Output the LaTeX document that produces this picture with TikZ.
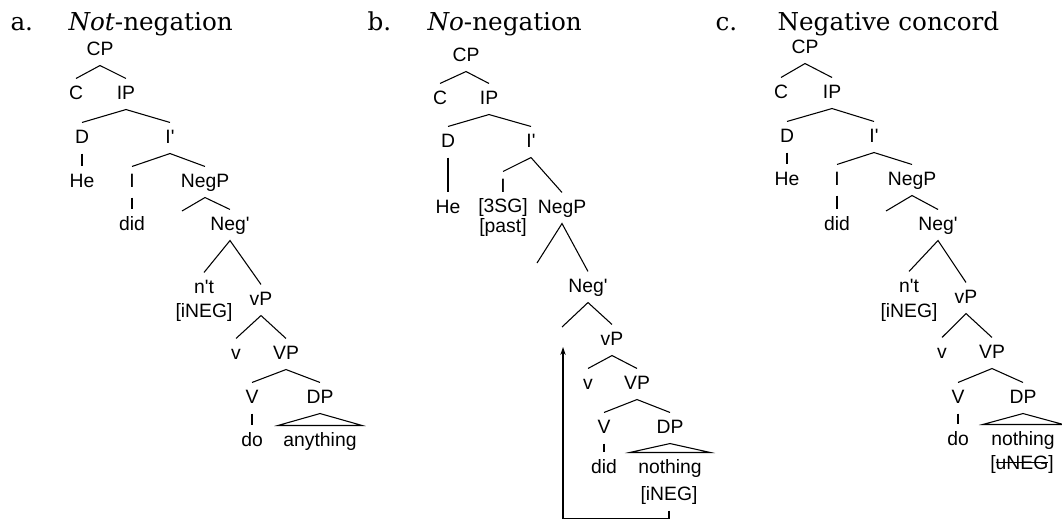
\documentclass[tikz,border=0pt]{standalone}
\usepackage{fontspec}
\newfontfamily\treefont{Liberation Sans}
\newfontfamily\headfont{DejaVu Serif}
\usetikzlibrary{arrows.meta}
\tikzset{every picture/.style={line width=0.8pt}}
\newcommand\strk[1]{\setbox0\hbox{#1}\rlap{\rule[0.34em]{\wd0}{0.7pt}}#1}

\begin{document}
\begin{tikzpicture}[x=0.75pt,y=0.75pt,yscale=-1,xscale=1,
	lab/.style={anchor=base,font=\treefont\fontsize{14.5}{16}\selectfont,inner xsep=3.75pt,inner ysep=4.5pt,text height=10.5pt,text depth=3pt},
	leaf/.style={lab,inner xsep=6pt},
	head/.style={anchor=base west,font=\headfont\fontsize{18.5}{21}\selectfont,inner sep=0pt}]
	\useasboundingbox (0,0) rectangle (1062,522);

	% Titles
	\node[head] (ta) at (10,30) {a.};
	\node[head] (tna) at (68,30) {\textit{Not}-negation};
	\node[head] (tb) at (367,30) {b.};
	\node[head] (tnb) at (427,30) {\textit{No}-negation};
	\node[head] (tc) at (715,30) {c.};
	\node[head] (tnc) at (777,30) {Negative concord};

	%Tree a
	\node[lab] (aCP) at (100,55) {CP};
	\node[lab] (aC) at (76,99) {C};
	\node[lab] (aIP) at (126,99) {IP};
	\node[lab] (aD) at (82,143) {D};
	\node[lab] (aIbar) at (170,143) {I'};
	\node[lab] (aHe) at (82,187) {He};
	\node[lab] (aI) at (132,187) {I};
	\node[lab] (aNegP) at (205,187) {NegP};
	\node[lab] (adid) at (132,230) {did};
	\node[lab] (aNegbar) at (230,230) {Neg'};
	\coordinate (aSpec) at (182,211);
	\node[lab] (ant) at (204,293) {n't};
	\node[lab] (aineg) at (204,317) {[iNEG]};
	\node[lab] (avP) at (261,305) {vP};
	\node[lab] (av) at (236,359) {v};
	\node[lab] (aVP) at (286,359) {VP};
	\node[lab] (aV) at (252,403) {V};
	\node[lab] (aDP) at (320,403) {DP};
	\node[lab] (ado) at (252,446) {do};
	\node[lab] (aany) at (320,446) {anything};

	\draw (aC.north) -- (aCP.south) -- (aIP.north);
	\draw (aD.north) -- (aIP.south) -- (aIbar.north);
	\draw (aD.south) -- (aHe.north);
	\draw (aI.north) -- (aIbar.south) -- (aNegP.north);
	\draw (aI.south) -- (adid.north);
	\draw (aSpec) -- (aNegP.south) -- (aNegbar.north);
	\draw (ant.north) -- (aNegbar.south) -- (avP.north);
	\draw (av.north) -- (avP.south) -- (aVP.north);
	\draw (aV.north) -- (aVP.south) -- (aDP.north);
	\draw (aV.south) -- (ado.north);
	\draw (aDP.south) -- (aany.north east) -- (aany.north west) -- cycle;

	%Tree b
	\node[lab] (bCP) at (466,61) {CP};
	\node[lab] (bC) at (440,104) {C};
	\node[lab] (bIP) at (489,104) {IP};
	\node[lab] (bD) at (448,147) {D};
	\node[lab] (bIbar) at (531,147) {I'};
	\node[lab] (bHe) at (448,213) {He};
	\node[lab] (bI) at (503,192) {I};
	\node[lab] (b3sg) at (503,212) {[3SG]};
	\node[lab] (bpast) at (503,232) {[past]};
	\node[lab] (bNegP) at (562,213) {NegP};
	\coordinate (bSpec) at (537,263);
	\node[lab] (bNegbar) at (588,292) {Neg'};
	\coordinate (bHead) at (562,327);
	\node[lab] (bvP) at (612,345) {vP};
	\node[lab] (bv) at (588,389) {v};
	\node[lab] (bVP) at (637,389) {VP};
	\node[lab] (bV) at (604,433) {V};
	\node[lab] (bDP) at (670,433) {DP};
	\node[lab] (bdid) at (604,473) {did};
	\node[leaf] (bnothing) at (670,473) {nothing};
	\node[lab] (bineg) at (669,500) {[iNEG]};
	\coordinate (bTrace) at (563,347);

	\draw (bC.north) -- (bCP.south) -- (bIP.north);
	\draw (bD.north) -- (bIP.south) -- (bIbar.north);
	\draw (bD.south) -- (bHe.north);
	\draw (bI.north) -- (bIbar.south) -- (bNegP.north);
	\draw (bSpec) -- (bNegP.south) -- (bNegbar.north);
	\draw (bHead) -- (bNegbar.south) -- (bvP.north);
	\draw (bv.north) -- (bvP.south) -- (bVP.north);
	\draw (bV.north) -- (bVP.south) -- (bDP.north);
	\draw (bV.south) -- (bdid.north);
	\draw (bDP.south) -- (bnothing.north east) -- (bnothing.north west) -- cycle;
	\draw[-{Stealth[length=6pt,width=4pt]}] (bineg.south) -- ++(0,8) -| (bTrace);

	%Tree c
	\node[lab] (cCP) at (805,53) {CP};
	\node[lab] (cC) at (781,98) {C};
	\node[lab] (cIP) at (832,98) {IP};
	\node[lab] (cD) at (787,142) {D};
	\node[lab] (cIbar) at (874,142) {I'};
	\node[lab] (cHe) at (787,185) {He};
	\node[lab] (cI) at (837,185) {I};
	\node[lab] (cNegP) at (912,185) {NegP};
	\node[lab] (cdid) at (837,230) {did};
	\node[lab] (cNegbar) at (938,230) {Neg'};
	\coordinate (cSpec) at (886,211);
	\node[lab] (cnt) at (909,292) {n't};
	\node[lab] (cineg) at (909,317) {[iNEG]};
	\node[lab] (cvP) at (966,303) {vP};
	\node[lab] (cv) at (942,358) {v};
	\node[lab] (cVP) at (992,358) {VP};
	\node[lab] (cV) at (958,403) {V};
	\node[lab] (cDP) at (1023,403) {DP};
	\node[lab] (cdo) at (958,445) {do};
	\node[leaf] (cnothing) at (1023,445) {nothing};
	\node[lab] (cuneg) at (1022,469) {[\strk{uNEG}]};

	\draw (cC.north) -- (cCP.south) -- (cIP.north);
	\draw (cD.north) -- (cIP.south) -- (cIbar.north);
	\draw (cD.south) -- (cHe.north);
	\draw (cI.north) -- (cIbar.south) -- (cNegP.north);
	\draw (cI.south) -- (cdid.north);
	\draw (cSpec) -- (cNegP.south) -- (cNegbar.north);
	\draw (cnt.north) -- (cNegbar.south) -- (cvP.north);
	\draw (cv.north) -- (cvP.south) -- (cVP.north);
	\draw (cV.north) -- (cVP.south) -- (cDP.north);
	\draw (cV.south) -- (cdo.north);
	\draw (cDP.south) -- (cnothing.north east) -- (cnothing.north west) -- cycle;

\end{tikzpicture}
\end{document}
